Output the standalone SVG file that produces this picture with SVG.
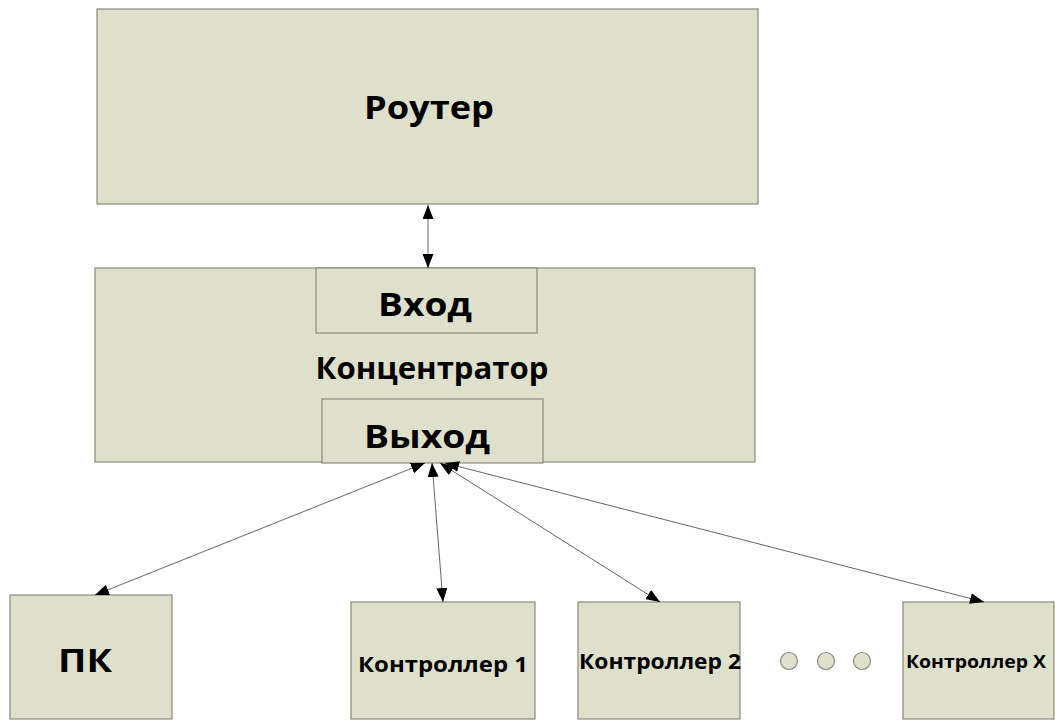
<svg xmlns="http://www.w3.org/2000/svg" width="1055" height="720" viewBox="0 0 1055 720">
<style>
.box{fill:#dee0cb;stroke:#8a8a80;stroke-width:1.2}
.t{font-family:"Open Sans","Liberation Sans",sans-serif;font-weight:bold;fill:#000;text-anchor:middle}
.big{font-size:33px}
.mid{font-size:30px}
.sm{font-size:21px}
.c{stroke:#666;stroke-width:1;fill:none;marker-start:url(#a);marker-end:url(#a)}
.dot{fill:#dee0cb;stroke:#8a8a80;stroke-width:1.2}
</style>
<defs>
<marker id="a" viewBox="0 0 14 11" refX="14" refY="5.5" markerWidth="14" markerHeight="11" markerUnits="userSpaceOnUse" orient="auto-start-reverse">
<path d="M0,0 L14,5.5 L0,11 Z" fill="#000"/>
</marker>
</defs>
<rect width="1055" height="720" fill="#fff"/>
<g id="router">
<rect class="box" x="97" y="9" width="661" height="195"/>
<text class="t big" x="429" y="119" textLength="130" lengthAdjust="spacingAndGlyphs">Роутер</text>
</g>
<g id="hub">
<rect class="box" x="95" y="268" width="660" height="194"/>
<text class="t mid" x="432" y="379" textLength="233" lengthAdjust="spacingAndGlyphs">Концентратор</text>
</g>
<g id="input">
<rect class="box" x="316" y="268" width="221" height="65"/>
<text class="t big" x="425" y="316" textLength="94" lengthAdjust="spacingAndGlyphs">Вход</text>
</g>
<g id="output">
<rect class="box" x="322" y="399" width="221" height="64"/>
<text class="t big" x="427" y="448" textLength="126" lengthAdjust="spacingAndGlyphs">Выход</text>
</g>
<g id="pc">
<rect class="box" x="10" y="595" width="162" height="124"/>
<text class="t big" x="85" y="672" textLength="54" lengthAdjust="spacingAndGlyphs">ПК</text>
</g>
<g id="ctrl1">
<rect class="box" x="351" y="602" width="184" height="117"/>
<text class="t sm" x="443" y="672" textLength="170" lengthAdjust="spacingAndGlyphs">Контроллер 1</text>
</g>
<g id="ctrl2">
<rect class="box" x="578" y="602" width="162" height="117"/>
<text class="t sm" x="660" y="669" textLength="162" lengthAdjust="spacingAndGlyphs">Контроллер 2</text>
</g>
<g id="dots">
<circle class="dot" cx="789" cy="661" r="8.5"/>
<circle class="dot" cx="826" cy="661" r="8.5"/>
<circle class="dot" cx="862" cy="661" r="8.5"/>
</g>
<g id="ctrlx">
<rect class="box" x="903" y="602" width="151" height="117"/>
<text class="t" style="font-size:18px" x="976" y="668" textLength="140" lengthAdjust="spacingAndGlyphs">Контроллер X</text>
</g>
<g id="connectors">
<line class="c" x1="428" y1="205" x2="428" y2="268"/>
<line class="c" x1="425" y1="463" x2="95" y2="595"/>
<line class="c" x1="432" y1="463" x2="443" y2="602"/>
<line class="c" x1="440" y1="463" x2="660" y2="602"/>
<line class="c" x1="445" y1="463" x2="984" y2="602"/>
</g>
</svg>
